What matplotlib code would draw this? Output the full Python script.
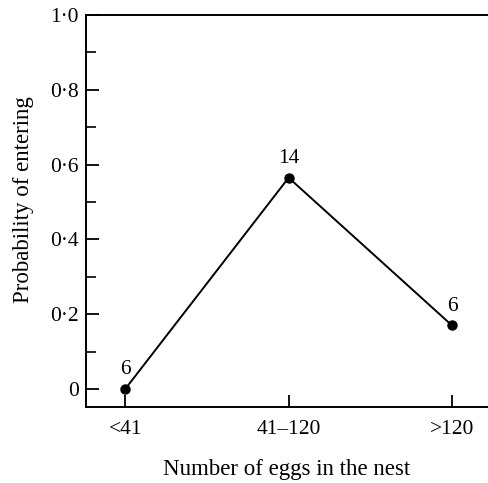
import matplotlib
matplotlib.use("Agg")
import matplotlib.pyplot as plt
from matplotlib.ticker import FixedLocator

categories = ["<41", "41–120", ">120"]
probability = [0.0, 0.565, 0.17]
counts = ["6", "14", "6"]
yticks = [0.0, 0.2, 0.4, 0.6, 0.8, 1.0]
ytick_labels = ["0", "0·2", "0·4", "0·6", "0·8", "1·0"]

plt.rcParams['font.family'] = ['Liberation Serif', 'DejaVu Serif']

fig = plt.figure(figsize=(4.89, 4.83), dpi=100)
ax = fig.add_axes([86/489, 1 - 407/483, (488-86)/489, (407-15)/483])

x = list(range(len(categories)))
ax.plot(x, probability, color='black', lw=1.4, marker='o', ms=6.5, clip_on=False, zorder=3)
for xi, yi, c in zip(x, probability, counts):
    ax.annotate(c, (xi, yi), xytext=(0, 7), textcoords='offset points',
                ha='center', va='bottom', fontsize=15.5)

ax.set_xlim(-0.24, 2.22)
ax.set_ylim(-0.048, 1.0)
ax.set_xticks(x)
ax.set_xticklabels(categories)
ax.set_yticks(yticks)
ax.set_yticklabels(ytick_labels)
ax.yaxis.set_minor_locator(FixedLocator([0.1, 0.3, 0.5, 0.7, 0.9]))

ax.spines['right'].set_visible(False)
for s in ['left', 'bottom', 'top']:
    ax.spines[s].set_linewidth(1.4)

ax.tick_params(axis='both', which='major', direction='in', length=9, width=1.3,
               labelsize=15.5, pad=5)
ax.tick_params(axis='y', which='minor', direction='in', length=7, width=1.2)
ax.tick_params(axis='x', which='major', pad=9)

ax.set_xlabel("Number of eggs in the nest", fontsize=16.5, labelpad=15)
ax.set_ylabel("Probability of entering", fontsize=16.5, labelpad=12, y=0.528)

fig.savefig("out.png", dpi=100)
